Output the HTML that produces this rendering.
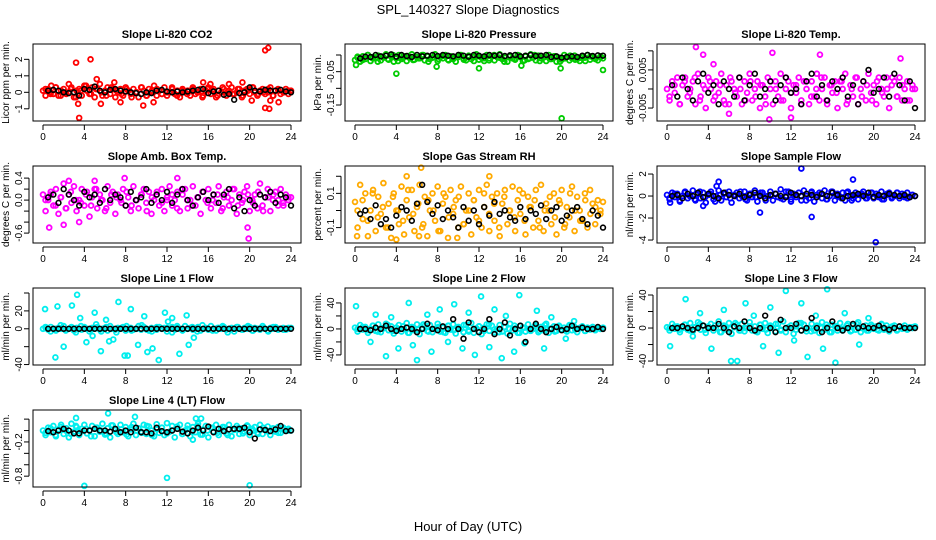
<!DOCTYPE html>
<html><head><meta charset="utf-8"><style>
body{margin:0;background:#fff}
svg{display:block;font-family:"Liberation Sans",sans-serif}
</style></head><body>
<svg id="c" width="936" height="540" viewBox="0 0 936 540">
<text x="468" y="14" text-anchor="middle" font-size="13">SPL_140327  Slope Diagnostics</text>
<text x="468" y="531" text-anchor="middle" font-size="13">Hour of Day (UTC)</text>
</svg>
<script>
const xTicks=[0,4,8,12,16,20,24];
const titles=["Slope Li-820 CO2","Slope Li-820 Pressure","Slope Li-820 Temp.","Slope Amb. Box Temp.","Slope Gas Stream RH","Slope Sample Flow","Slope Line 1 Flow","Slope Line 2 Flow","Slope Line 3 Flow","Slope Line 4 (LT) Flow"];
const yTitles=["Licor ppm per min.","kPa per min.","degrees C per min.","degrees C per min.","percent per min.","nl/min per min.","ml/min per min.","ml/min per min.","ml/min per min.","ml/min per min."];
const yRanges=[[-1.74,2.93],[-0.198,0.033],[-0.0084,0.0118],[-0.78,0.62],[-0.19,0.26],[-4.27,2.73],[-40.5,45.6],[-55.5,63],[-44.8,48.5],[-0.99,0.36]];
const yTickVals=[[-1,0,1,2],[-0.15,-0.1,-0.05,0],[-0.005,0,0.005,0.01],[-0.6,-0.4,-0.2,0,0.2,0.4],[-0.1,0,0.1,0.2],[-4,-2,0,2],[-40,-20,0,20,40],[-40,-20,0,20,40],[-40,-20,0,20,40],[-0.8,-0.6,-0.4,-0.2,0,0.2]];
const yTickLabels=[["-1","0","1","2"],["-0.15","","-0.05",""],["-0.005","","0.005",""],["-0.6","","","0.0","","0.4"],["-0.1","","0.1",""],["-4","-2","0","2"],["-40","","0","20",""],["-40","","0","","40"],["-40","","0","","40"],["-0.8","","","-0.2","",""]];
const colors=["#ff0000","#00cc00","#ff00ff","#ff00ff","#ffaa00","#0000ff","#00eeee","#00eeee","#00eeee","#00eeee"];

const co2Band=[0.1,-0.2,0.2,0.0,-0.1,0.3,-0.2,0.1,0.2,-0.1,0.0,0.3,-0.3,0.1,0.2,-0.2,0.4,0.1,-0.1,0.3,-0.3,0.2,0.5,-0.2,0.1,0.3,-0.1,0.2,-0.3,0.0,0.2,-0.2,0.3,0.1,-0.1,0.2,0.0,-0.3,0.3,0.1,-0.2,0.2,0.0,0.4,-0.2,0.1,-0.1,0.3,-0.2,0.0,0.2,-0.1,0.1,-0.3,0.2,0.0,0.1,-0.2,0.3,-0.1,0.0,0.2,-0.2,0.1,0.3,-0.1,0.2,-0.3,0.1,0.0,0.2,-0.2,0.1,0.3,-0.1,0.0,0.2,-0.3,0.1,0.2,-0.1,0.3,0.0,-0.2,0.1,0.2,-0.1,0.0,0.3,-0.2,0.1,0.2,-0.1,0.0,0.2,-0.1,0.1];
const co2Band2=[0.2,-0.1,0.3,-0.2,0.0,0.2,-0.3,0.1,0.4,-0.1,0.2,0.0,-0.2,0.3,0.1,-0.1,0.2,-0.3,0.0,0.3,-0.2,0.1,0.2,-0.1,0.0,0.3,-0.2,0.1,-0.1,0.2,0.0,-0.3,0.2,0.1,-0.2,0.3,0.0,-0.1,0.2,-0.2,0.1,0.3,-0.1,0.0,0.2,-0.2,0.1,0.0,0.1];
const co2Black=[0.1,0.15,0.1,0.0,-0.05,0.0,-0.2,0.2,0.15,0.35,0.1,0.0,0.15,0.2,0.1,0.05,0.0,-0.05,-0.1,0.0,-0.05,0.1,0.15,0.05,0.0,0.05,0.0,0.05,0.1,0.15,0.2,-0.05,0.05,0.1,-0.15,-0.1,-0.45,-0.05,0.0,0.3,0.1,0.05,0.15,0.1,0.1,0.15,0.05,0.0];
const co2OutX=[3.2,4.6,3.4,3.5,5.2,6.9,5.6,7.5,9.7,10.7,15.5,16.2,18.0,19.3,21.5,21.8,21.5,21.9,22.8,20.2,22.0,0.8,2.5];
const co2OutY=[1.8,2.0,-0.7,-1.55,0.8,0.6,-0.7,-0.6,-0.8,-0.6,0.6,0.5,0.5,0.6,2.55,2.7,-0.95,-1.0,-0.6,-0.5,-0.5,0.4,0.5];

const presBand=[-0.015,-0.008,-0.02,-0.004,-0.012,0.0,-0.018,-0.006,-0.01,-0.002,-0.016,-0.008,0.002,-0.014,-0.005,-0.02,-0.01,0.0,-0.012,-0.004,-0.018,-0.008,0.002,-0.014,-0.006,-0.01,0.0,-0.016,-0.004,-0.012,-0.008,0.002,-0.018,-0.006,-0.01,0.0,-0.014,-0.004,-0.012,-0.02,-0.006,0.0,-0.01,-0.016,-0.002,-0.012,-0.006,0.002,-0.014,-0.008,-0.018,0.0,-0.01,-0.004,-0.016,-0.006,0.002,-0.012,-0.008,-0.02,-0.002,-0.01,-0.014,0.0,-0.006,-0.018,-0.004,-0.012,0.002,-0.008,-0.016,-0.002,-0.01,-0.006,-0.018,0.0,-0.012,-0.004,-0.02,-0.008,-0.014,0.0,-0.006,-0.016,-0.01,-0.002,-0.012,-0.018,-0.004,-0.008,0.0,-0.014,-0.006,-0.01,-0.016,-0.004,-0.01];
const presBand2=[-0.005,-0.015,0.0,-0.01,-0.02,-0.005,-0.012,0.0,-0.018,-0.008,-0.003,-0.015,-0.01,0.0,-0.02,-0.006,-0.012,-0.002,-0.016,-0.008,0.0,-0.014,-0.006,-0.018,-0.004,-0.01,-0.016,0.0,-0.008,-0.02,-0.005,-0.012,-0.002,-0.016,-0.01,0.0,-0.018,-0.006,-0.012,-0.004,-0.02,-0.01,-0.002,-0.014,-0.008,-0.018,-0.004,-0.012,-0.006];
const presBlack=[-0.01,-0.005,-0.006,0.0,-0.004,-0.002,0.002,-0.005,0.0,-0.003,-0.006,0.0,-0.004,-0.002,0.0,-0.003,0.0,-0.002,-0.004,0.0,-0.002,-0.005,0.0,-0.002,-0.004,0.0,-0.002,0.0,-0.003,-0.001,0.0,-0.004,-0.002,0.0,-0.003,-0.002,0.0,-0.006,-0.004,-0.008,-0.006,-0.004,-0.006,-0.002,0.0,-0.003,-0.001,-0.002];
const presOutX=[0.1,4.0,7.9,12.0,16.1,20.0,19.9,24.0];
const presOutY=[-0.03,-0.056,-0.035,-0.04,-0.032,-0.19,-0.04,-0.045];

const tempBand=[0.0,-0.003,0.002,-0.001,0.003,-0.004,0.001,0.003,-0.002,0.0,0.002,-0.004,0.004,-0.002,0.001,-0.005,0.003,0.0,-0.003,0.002,-0.001,0.004,-0.003,0.001,-0.004,0.002,0.0,-0.002,0.003,-0.004,0.002,-0.001,0.004,-0.003,0.0,0.002,-0.005,0.001,-0.002,0.003,0.0,-0.004,0.002,-0.002,0.004,-0.003,0.0,0.002,-0.005,0.001,-0.001,0.003,-0.003,0.002,0.0,-0.004,0.002,-0.002,0.004,-0.003,0.0,0.003,-0.004,0.001,-0.001,0.002,-0.005,0.002,0.0,0.004,-0.003,0.001,-0.002,0.003,-0.004,0.0,0.002,-0.003,0.004,-0.001,0.001,-0.004,0.003,0.0,-0.002,0.003,-0.005,0.001,0.002,-0.002,0.003,-0.003,0.0,0.002,-0.003,0.001,0.0];
const tempBand2=[-0.002,0.001,-0.004,0.002,-0.001,0.003,-0.003,0.0,0.002,-0.002,0.001,-0.004,0.003,-0.001,0.0,-0.003,0.002,-0.002,0.001,-0.004,0.002,0.0,-0.003,0.003,-0.001,0.001,-0.004,0.002,-0.002,0.0,0.003,-0.003,0.001,-0.001,0.002,-0.004,0.0,0.003,-0.002,0.001,-0.003,0.002,-0.001,0.0,0.003,-0.002,0.001,-0.003,0.0];
const tempBlack=[0.001,-0.002,0.003,0.0,-0.003,0.002,0.004,-0.001,0.001,-0.004,0.002,0.0,-0.002,0.003,-0.003,0.001,0.004,-0.002,0.0,0.002,-0.003,0.001,0.003,-0.001,0.0,-0.004,0.002,0.004,-0.002,0.001,-0.003,0.002,0.0,0.003,-0.002,0.001,-0.004,0.002,0.005,-0.001,0.0,0.003,-0.002,0.004,0.001,-0.003,0.002,-0.005];
const tempOutX=[2.8,3.5,9.9,12.0,14.8,22.6,6.0,10.2,4.5];
const tempOutY=[0.011,0.009,-0.008,-0.0075,0.009,0.008,-0.0065,0.0095,0.0065];

const ambBand=[0.1,-0.2,0.0,0.15,-0.1,0.2,-0.25,0.05,0.3,-0.15,0.1,-0.05,0.25,-0.2,0.0,0.2,-0.1,0.15,-0.3,0.05,0.2,-0.15,0.1,0.0,-0.2,0.25,-0.05,0.15,-0.25,0.1,0.0,0.2,-0.1,0.05,-0.2,0.25,0.0,-0.15,0.1,0.2,-0.05,0.15,-0.25,0.0,0.1,-0.1,0.2,-0.2,0.05,0.25,-0.1,0.0,0.15,-0.2,0.1,0.2,-0.15,0.0,0.25,-0.1,0.05,-0.25,0.15,0.0,0.2,-0.15,0.1,-0.05,0.25,-0.2,0.05,0.15,-0.1,0.0,0.2,-0.25,0.1,-0.05,0.15,0.25,-0.2,0.0,0.1,-0.15,0.3,-0.1,0.05,0.2,-0.2,0.0,0.15,-0.1,0.2,-0.05,0.1,0.0,0.05];
const ambBand2=[0.0,0.1,-0.1,0.05,-0.15,0.15,0.0,-0.05,0.1,-0.1,0.2,0.0,-0.15,0.1,0.05,-0.05,0.15,-0.1,0.0,0.1,-0.2,0.05,0.15,-0.05,0.0,0.1,-0.15,0.2,0.0,-0.1,0.05,0.15,-0.05,0.0,0.1,-0.15,0.05,0.2,-0.1,0.0,0.1,-0.05,0.15,-0.2,0.05,0.1,0.0,-0.1,0.05];
const ambBlack=[0.05,0.1,-0.05,0.2,0.1,0.0,-0.1,0.15,0.05,0.1,-0.05,0.2,0.0,0.1,0.05,-0.1,0.15,0.0,0.05,0.2,-0.05,0.1,0.0,0.15,-0.05,0.1,0.2,0.0,-0.1,0.05,0.15,0.0,0.1,-0.05,0.1,0.2,-0.15,0.05,-0.2,0.0,-0.1,0.1,0.05,0.15,-0.05,0.1,0.05,-0.1];
const ambOutX=[19.9,19.8,0.6,2.5,7.9,5.0,13.0,3.5,2.0];
const ambOutY=[-0.7,-0.5,-0.5,0.35,0.4,0.35,0.4,-0.4,-0.45];

const rhBand=[0.05,-0.1,0.15,-0.05,0.1,-0.15,0.0,0.12,-0.12,0.08,-0.02,0.16,-0.1,0.04,-0.16,0.1,0.0,-0.08,0.14,-0.14,0.06,-0.04,0.12,-0.12,0.02,0.15,-0.1,0.08,-0.15,0.0,0.1,-0.06,0.14,-0.12,0.04,0.08,-0.16,0.12,-0.02,0.06,-0.1,0.14,-0.08,0.0,0.1,-0.14,0.06,-0.04,0.12,-0.1,0.02,0.15,-0.12,0.08,-0.06,0.1,-0.15,0.04,0.12,-0.08,0.0,0.14,-0.12,0.06,-0.02,0.1,-0.14,0.08,0.02,-0.1,0.12,-0.06,0.15,-0.12,0.04,0.0,-0.08,0.1,-0.14,0.06,0.12,-0.1,0.02,-0.04,0.14,-0.12,0.08,0.0,-0.06,0.1,-0.1,0.12,0.04,-0.08,0.06,-0.02,0.05];
const rhBand2=[0.0,0.06,-0.06,0.1,-0.04,0.02,-0.1,0.08,0.0,-0.06,0.12,-0.02,0.04,-0.08,0.06,0.0,-0.12,0.1,-0.04,0.02,0.08,-0.08,0.0,0.06,-0.06,0.1,-0.02,0.04,-0.1,0.08,0.0,-0.04,0.12,-0.06,0.02,0.06,-0.1,0.0,0.08,-0.04,0.04,-0.08,0.1,0.0,-0.06,0.06,-0.02,0.02,0.0];
const rhBlack=[-0.02,0.0,-0.05,0.03,-0.08,-0.05,-0.1,-0.03,0.02,0.0,-0.06,0.04,0.15,0.05,-0.02,0.03,-0.05,0.0,-0.04,-0.1,0.02,-0.06,0.0,-0.08,0.02,-0.03,0.05,-0.02,0.0,-0.04,-0.06,0.02,-0.05,0.0,-0.02,0.03,-0.05,0.0,0.02,-0.06,-0.03,0.0,0.02,-0.05,-0.08,0.0,-0.03,-0.1];
const rhOutX=[5.0,6.4,4.0,13.0,9.9,0.2,6.2];
const rhOutY=[0.2,0.25,-0.17,0.2,-0.16,-0.15,-0.15];

const sfBand=[0.1,-0.3,0.3,-0.1,0.2,-0.5,0.0,0.4,-0.2,0.0,0.5,-0.4,0.2,-0.2,0.3,-0.6,0.1,0.4,-0.3,0.0,0.5,-0.4,0.2,-0.1,0.4,-0.6,0.1,0.3,-0.2,0.0,0.4,-0.4,0.2,-0.1,0.5,-0.5,0.1,0.3,-0.2,0.0,0.4,-0.4,0.2,-0.1,0.6,-0.3,0.0,0.4,-0.5,0.2,-0.1,0.3,-0.4,0.5,0.0,-0.2,0.4,-0.5,0.1,0.3,-0.2,0.5,-0.3,0.0,0.4,-0.4,0.2,-0.1,0.3,-0.4,0.4,0.0,-0.2,0.3,-0.3,0.1,0.4,-0.2,0.0,0.3,-0.2,0.2,-0.1,0.4,-0.3,0.1,0.3,-0.2,0.0,0.3,-0.2,0.2,-0.1,0.3,-0.1,0.1,0.0];
const sfBand2=[-0.2,0.2,-0.4,0.3,0.0,-0.3,0.4,-0.1,0.2,-0.5,0.1,0.3,-0.2,0.0,0.4,-0.3,0.2,-0.1,0.3,-0.4,0.0,0.2,-0.2,0.4,-0.3,0.1,0.0,-0.4,0.3,-0.1,0.2,-0.3,0.4,0.0,-0.2,0.3,-0.4,0.1,0.2,-0.2,0.3,0.0,-0.3,0.2,-0.1,0.3,0.0,-0.2,0.1];
const sfBlack=[0.0,0.1,-0.2,0.2,0.0,0.3,-0.1,0.2,0.0,-0.2,0.3,0.1,0.0,0.2,-0.1,0.1,0.3,0.0,-0.2,0.1,0.2,0.0,-0.1,0.3,0.1,0.0,0.2,0.1,-0.1,0.2,0.0,0.3,0.1,-0.2,0.0,0.1,0.2,0.0,0.3,-0.1,0.1,0.0,0.2,0.1,0.0,0.1,-0.1,0.0];
const sfOutX=[13.0,20.2,14.0,5.0,9.0,18.0,3.5,4.8,0.3];
const sfOutY=[2.5,-4.2,-1.9,1.3,-1.5,1.5,-0.9,0.9,-0.6];

const l1Band=[0,1,-1,2,0,-2,1,0,3,-1,0,2,-2,1,0,-1,2,0,-3,1,0,2,-1,0,1,-2,3,0,-1,1,0,2,-2,0,1,-1,0,3,-1,2,0,-2,1,0,-1,2,0,1,-3,0,2,-1,1,0,-2,3,0,1,-1,0,2,-2,0,1,-1,3,0,-2,1,0,2,-1,0,1,-3,2,0,-1,1,0,2,-2,1,0,-1,3,0,-2,1,0,2,-1,0,1,-1,0,1];
const l1Band2=[2,-3,0,4,-2,1,-4,3,0,-1,5,-3,2,0,-4,1,3,-2,0,4,-1,-3,2,0,1,-4,3,-1,0,2,-3,4,0,-2,1,3,-4,0,2,-1,3,-2,0,1,-3,2,0,-1,1];
const l1Black=[0,0,0,0,0,0,0,0,0,0,0,0,0,0,0,0,0,0,0,0,0,0,0,0,0,0,0,0,0,0,0,0,0,0,0,0,0,0,0,0,0,0,0,0,0,0,0,0];
const l1OutX=[0.2,1.4,2.0,3.3,3.6,4.2,5.0,5.6,6.1,6.8,7.3,7.9,8.5,9.2,9.8,10.6,11.2,11.8,12.5,13.2,13.9,14.6,1.2,2.8,4.8,6.4,8.2,10.1,12.1,14.1];
const l1OutY=[22,25,-20,38,12,-15,18,-25,10,-12,30,-30,22,-18,14,-22,-35,18,12,-28,15,-10,-32,26,-8,-14,-30,-26,8,-18];

const l2Band=[2,-4,6,-1,3,-6,0,5,-3,7,-5,1,8,-2,4,-7,2,6,-4,0,9,-6,3,-2,7,-8,1,5,-3,6,-5,0,8,-4,2,-6,5,-1,7,-7,3,0,-5,6,-2,9,-6,1,4,-8,2,7,-3,5,-5,0,6,-4,3,-7,8,-2,1,-6,5,2,-4,7,-3,0,6,-5,3,-2,8,-6,1,4,-3,5,-1,2,-4,6,-2,3,-5,1,4,-3,2,-1,3,-2,1,0,2];
const l2Band2=[0,3,-2,5,-4,1,6,-3,0,4,-6,2,-1,7,-4,0,3,-5,5,-2,1,6,-4,0,4,-3,7,-1,-5,3,0,5,-6,2,-2,4,-3,6,0,-4,3,-2,5,-1,2,-3,1,0,1];
const l2Black=[0,0,-2,2,0,5,0,-3,0,2,0,-5,0,8,0,-2,4,0,15,0,-15,10,0,-5,0,15,-8,0,10,-10,0,5,-20,0,8,0,-5,0,3,-2,0,5,0,2,0,0,3,0];
const l2OutX=[0.1,1.5,2.0,3.0,3.5,4.2,5.2,5.6,6.0,7.0,7.4,8.2,9.0,9.6,10.4,11.0,11.6,12.2,13.0,13.5,14.2,14.6,15.4,15.9,16.4,17.6,18.3,19.0,20.4,21.2];
const l2OutY=[35,-20,22,-42,18,-30,40,-25,-48,22,-35,30,-20,38,-30,25,-40,50,-28,30,-45,20,-35,52,-22,28,-30,18,-15,12];

const l3Band=[1,-3,5,-1,2,-5,0,4,-2,6,-4,1,7,-2,3,-6,2,5,-3,0,8,-5,3,-2,6,-7,1,4,-3,5,-4,0,7,-3,2,-5,4,-1,6,-6,3,0,-4,5,-2,8,-5,1,3,-7,2,6,-3,4,-4,0,5,-3,3,-6,7,-2,1,-5,4,2,-3,6,-3,0,5,-4,3,-2,7,-5,1,3,-3,4,-1,2,-3,5,-2,3,-4,1,3,-3,2,-1,3,-2,1,0,2];
const l3Band2=[0,2,-2,4,-3,1,5,-2,0,3,-5,2,-1,6,-3,0,2,-4,4,-2,1,5,-3,0,3,-2,6,-1,-4,2,0,4,-5,2,-1,3,-3,5,0,-3,2,-2,4,-1,2,-2,1,0,1];
const l3Black=[0,0,2,0,-2,0,3,0,0,5,0,-5,2,0,8,0,-3,0,15,0,-5,10,0,0,5,-3,0,12,0,-5,0,8,0,-3,0,5,0,2,0,0,3,0,-2,0,2,0,0,0];
const l3OutX=[0.3,1.8,2.5,3.2,4.3,5.5,6.2,6.8,7.6,8.4,9.3,10.0,10.8,11.5,12.3,13.0,13.6,14.4,15.1,15.5,16.3,17.2,18.6,19.5];
const l3OutY=[-22,35,-10,18,-25,22,-40,-40,30,15,-22,25,-30,45,-15,30,-35,15,-25,47,-42,18,-20,12];

const l4Band=[0.0,-0.08,0.05,-0.03,0.08,-0.1,0.02,0.1,-0.06,0.04,-0.12,0.12,-0.02,0.06,-0.08,0.03,0.1,-0.05,0.0,0.08,-0.1,0.05,-0.02,0.12,-0.07,0.04,-0.12,0.09,0.01,-0.06,0.1,-0.03,0.06,-0.1,0.02,0.12,-0.08,0.04,-0.02,0.1,-0.06,0.07,0.0,-0.1,0.11,-0.04,0.05,-0.08,0.13,-0.02,0.08,-0.12,0.03,0.1,-0.06,0.0,0.09,-0.1,0.06,-0.03,0.12,-0.07,0.02,0.08,-0.12,0.05,-0.02,0.1,-0.08,0.03,0.06,-0.05,0.1,-0.1,0.01,0.08,-0.06,0.04,-0.02,0.09,-0.08,0.03,0.06,-0.04,0.1,-0.06,0.02,0.07,-0.08,0.04,-0.02,0.06,-0.04,0.05,0.0,0.03,0.0];
const l4Band2=[-0.04,0.04,-0.08,0.06,0.0,-0.06,0.08,-0.02,0.03,-0.1,0.05,0.0,-0.05,0.09,-0.03,0.02,-0.07,0.06,0.0,-0.04,0.08,-0.08,0.02,0.05,-0.05,0.0,0.07,-0.06,0.03,-0.02,0.08,-0.07,0.0,0.05,-0.04,0.06,-0.08,0.02,0.04,-0.05,0.07,0.0,-0.06,0.05,-0.02,0.03,-0.04,0.02,0.0];
const l4Black=[-0.01,-0.03,0.0,0.03,0.0,-0.05,-0.05,0.0,0.0,0.03,0.0,0.0,-0.02,0.03,-0.03,0.0,-0.03,0.05,-0.03,-0.03,-0.05,0.05,-0.01,-0.03,0.0,0.03,-0.02,-0.05,0.0,0.05,0.0,0.07,-0.03,0.03,-0.01,0.02,0.03,0.03,0.05,-0.03,-0.14,0.02,0.01,-0.01,0.02,0.08,-0.01,0.0];
const l4OutX=[4.0,12.0,20.0,6.3,3.2,8.9,14.8,15.3,14.5];
const l4OutY=[-0.97,-0.83,-0.96,0.3,0.22,0.24,0.21,0.21,-0.16];

const bands=[co2Band,presBand,tempBand,ambBand,rhBand,sfBand,l1Band,l2Band,l3Band,l4Band];
const bands2=[co2Band2,presBand2,tempBand2,ambBand2,rhBand2,sfBand2,l1Band2,l2Band2,l3Band2,l4Band2];
const blacks=[co2Black,presBlack,tempBlack,ambBlack,rhBlack,sfBlack,l1Black,l2Black,l3Black,l4Black];
const outXs=[co2OutX,presOutX,tempOutX,ambOutX,rhOutX,sfOutX,l1OutX,l2OutX,l3OutX,l4OutX];
const outYs=[co2OutY,presOutY,tempOutY,ambOutY,rhOutY,sfOutY,l1OutY,l2OutY,l3OutY,l4OutY];

const NS="http://www.w3.org/2000/svg";
const svg=document.getElementById('c');
function mk(tag,attrs,parent){const e=document.createElementNS(NS,tag);for(const k in attrs)e.setAttribute(k,attrs[k]);(parent||svg).appendChild(e);return e;}
const slugs=["co2","pressure","temp","amb-box-temp","gas-rh","sample-flow","line1-flow","line2-flow","line3-flow","line4-flow"];
for(let p=0;p<10;p++){
  const col=p%3,row=Math.floor(p/3);
  const L=33+col*312,R=L+268,T=44+row*122,B=T+77;
  const xs=h=>L+10+(h/24)*248;
  const [y0,y1]=yRanges[p];
  const ys=v=>B-(v-y0)/(y1-y0)*(B-T);
  const g=mk('g',{});
  
  
  const t=mk('text',{x:(L+R)/2,y:T-6,'text-anchor':'middle','font-size':11,'font-weight':'bold'},g);
  t.textContent=titles[p];
  
  
  const yt=mk('text',{x:0,y:0,'text-anchor':'middle','font-size':10,transform:`translate(${L-24},${(T+B)/2}) rotate(-90)`},g);
  yt.textContent=yTitles[p];
  
  
  const n=bands[p].length;
  bands[p].forEach((v,i)=>{
    const c=mk('circle',{cx:xs(i*24/(n-1)),cy:ys(v),r:2.4,fill:'none',stroke:colors[p],'stroke-width':1.8},g);
    
    
  });
  const n2=bands2[p].length;
  bands2[p].forEach((v,i)=>{
    const c=mk('circle',{cx:xs((i+0.5)*24/n2),cy:ys(v),r:2.4,fill:'none',stroke:colors[p],'stroke-width':1.8},g);
    
    
  });
  outXs[p].forEach((h,i)=>{
    const c=mk('circle',{cx:xs(h),cy:ys(outYs[p][i]),r:2.4,fill:'none',stroke:colors[p],'stroke-width':1.8},g);
    
    
  });
  blacks[p].forEach((v,i)=>{
    const c=mk('circle',{cx:xs((i+1)*0.5),cy:ys(v),r:2.4,fill:'none',stroke:'#000','stroke-width':1.6},g);
    
    
  });
  const box=mk('rect',{x:L,y:T,width:R-L,height:B-T,fill:'none',stroke:'#000','stroke-width':1},g);
  
  
  xTicks.forEach(h=>{
    mk('line',{x1:xs(h),x2:xs(h),y1:B+4,y2:B+9,stroke:'#000'},g);
    const tl=mk('text',{x:xs(h),y:B+19,'text-anchor':'middle','font-size':10},g);
    tl.textContent=h;
    
    
  });
  mk('line',{x1:xs(0),x2:xs(24),y1:B+4,y2:B+4,stroke:'#000'},g);
  const tv=yTickVals[p];
  mk('line',{x1:L-4,x2:L-4,y1:ys(tv[0]),y2:ys(tv[tv.length-1]),stroke:'#000'},g);
  tv.forEach((v,i)=>{
    mk('line',{x1:L-9,x2:L-4,y1:ys(v),y2:ys(v),stroke:'#000'},g);
    const tl=mk('text',{x:0,y:0,'text-anchor':'middle','font-size':10,transform:`translate(${L-11},${ys(v)}) rotate(-90)`},g);
    tl.textContent=yTickLabels[p][i];
    
    
  });
}
</script>
</body></html>
